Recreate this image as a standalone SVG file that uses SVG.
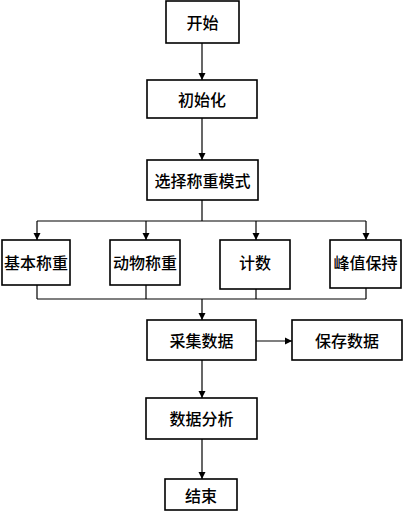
<svg xmlns="http://www.w3.org/2000/svg" width="403" height="521" viewBox="0 0 403 521">
<style>
.box{fill:#fff;stroke:#000;stroke-width:1.6}
.t{font-family:"Noto Sans CJK SC",sans-serif;font-size:16px;font-weight:500;fill:#000;text-anchor:middle;dominant-baseline:central}
.c{fill:none;stroke:#000;stroke-width:1.2}
</style>
<defs>
<marker id="a" markerWidth="8" markerHeight="8" refX="7" refY="4" orient="auto" markerUnits="userSpaceOnUse">
<path d="M0,0.5 L7,4 L0,7.5 Z" fill="#000"/>
</marker>
</defs>
<rect width="403" height="521" fill="#fff"/>
<g id="connectors">
<line class="c" x1="202" y1="43" x2="202" y2="80" marker-end="url(#a)"/>
<line class="c" x1="202" y1="118" x2="202" y2="160" marker-end="url(#a)"/>
<line class="c" x1="202" y1="200" x2="202" y2="221"/>
<line class="c" x1="37" y1="221" x2="366" y2="221"/>
<line class="c" x1="37" y1="221" x2="37" y2="240" marker-end="url(#a)"/>
<line class="c" x1="146" y1="221" x2="146" y2="240" marker-end="url(#a)"/>
<line class="c" x1="256" y1="221" x2="256" y2="240" marker-end="url(#a)"/>
<line class="c" x1="366" y1="221" x2="366" y2="240" marker-end="url(#a)"/>
<line class="c" x1="37" y1="285" x2="37" y2="299"/>
<line class="c" x1="146" y1="285" x2="146" y2="299"/>
<line class="c" x1="256" y1="289" x2="256" y2="299"/>
<line class="c" x1="366" y1="288" x2="366" y2="299"/>
<line class="c" x1="37" y1="299" x2="366" y2="299"/>
<line class="c" x1="202" y1="299" x2="202" y2="320" marker-end="url(#a)"/>
<line class="c" x1="256" y1="341" x2="292" y2="341" marker-end="url(#a)"/>
<line class="c" x1="202" y1="360" x2="202" y2="398" marker-end="url(#a)"/>
<line class="c" x1="202" y1="439" x2="202" y2="479" marker-end="url(#a)"/>
</g>
<g id="start"><rect class="box" x="166" y="1" width="73" height="42"/><text class="t" x="202.5" y="22">开始</text></g>
<g id="init"><rect class="box" x="147" y="80" width="110" height="38"/><text class="t" x="202" y="99">初始化</text></g>
<g id="select"><rect class="box" x="147" y="160" width="111" height="40"/><text class="t" x="202.5" y="180">选择称重模式</text></g>
<g id="basic"><rect class="box" x="2" y="240" width="68" height="45"/><text class="t" x="36" y="262">基本称重</text></g>
<g id="animal"><rect class="box" x="110" y="240" width="70" height="45"/><text class="t" x="145" y="262">动物称重</text></g>
<g id="count"><rect class="box" x="220" y="240" width="70" height="49"/><text class="t" x="255" y="262">计数</text></g>
<g id="peak"><rect class="box" x="330" y="240" width="71" height="48"/><text class="t" x="365.5" y="262">峰值保持</text></g>
<g id="collect"><rect class="box" x="147" y="320" width="109" height="40"/><text class="t" x="201.5" y="340">采集数据</text></g>
<g id="save"><rect class="box" x="292" y="320" width="110" height="40"/><text class="t" x="347" y="340">保存数据</text></g>
<g id="analyze"><rect class="box" x="146" y="398" width="111" height="41"/><text class="t" x="201.5" y="418">数据分析</text></g>
<g id="end"><rect class="box" x="165" y="479" width="72" height="31"/><text class="t" x="201" y="494.5">结束</text></g>
</svg>
